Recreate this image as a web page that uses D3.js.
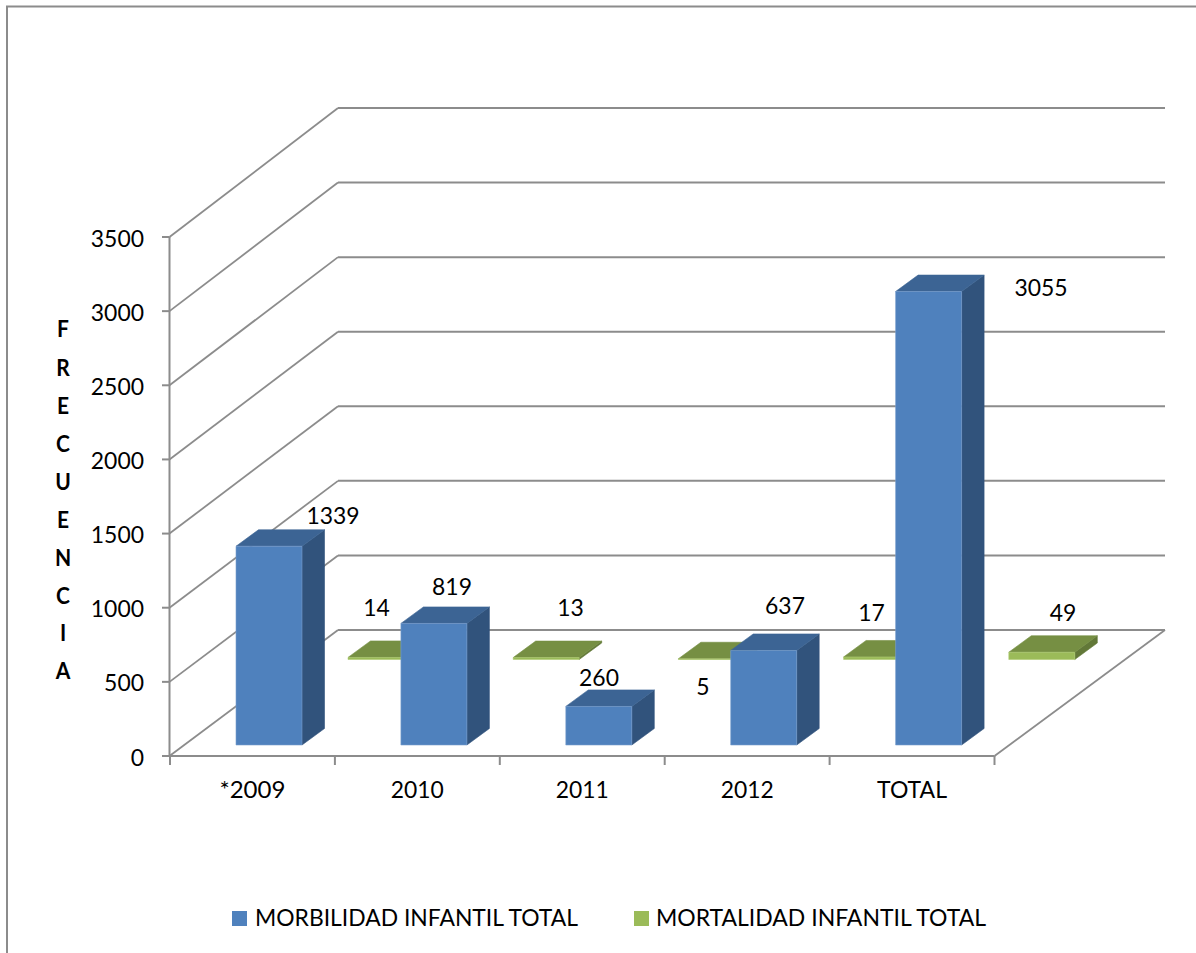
<!DOCTYPE html>
<html><head><meta charset="utf-8">
<script src="https://cdn.jsdelivr.net/npm/d3@7"></script>
<style>html,body{margin:0;padding:0;background:#fff}svg{display:block}text{font-family:Lato,"Open Sans",sans-serif;fill:#000}</style>
</head><body><svg id="c" width="1196" height="953"></svg>
<script>
const categories=["*2009","2010","2011","2012","TOTAL"];
const morbilidad=[1339,819,260,637,3055];
const mortalidad=[14,13,5,17,49];
const seriesNames=["MORBILIDAD INFANTIL TOTAL","MORTALIDAD INFANTIL TOTAL"];
const yTicks=[0,500,1000,1500,2000,2500,3000,3500];
const axisLetters=["F","R","E","C","U","E","N","C","I","A"];

const svg=d3.select("#c");
const xFront=d3.scaleBand().domain(categories).range([170,994.5]);
const xBack=d3.scaleBand().domain(categories).range([170,996]);
const y=d3.scaleLinear().domain([0,3500]).range([756,237]);
const yBack=d3.scaleLinear().domain([0,3500]).range([630,108]);
const barH=d3.scaleLinear().domain([0,3500]).range([0,519.5]);
const axisX=169.5,backX=338,rightX=1165,floorRight=994.5;
const barW=66,barDX=22.5,barDY=16.5,barInset=50;
const grid="#8c8c8c";
const line=(a,b,c,d,w=2)=>svg.append("line").attr("x1",a).attr("y1",b).attr("x2",c).attr("y2",d).attr("stroke",grid).attr("stroke-width",w);

// frame
svg.append("path").attr("d","M7,953V6.5H1196").attr("fill","none").attr("stroke","#8c8c8c").attr("stroke-width",2);

// walls
yTicks.forEach(t=>{
  if(t>0) line(axisX,y(t),backX,yBack(t),1.8);
  line(backX,yBack(t),rightX,yBack(t));
  line(162,y(t),axisX,y(t));
});
line(axisX,237,axisX,756);
line(axisX,756,backX,630,1.8);
line(axisX,756,floorRight,756);
line(floorRight,756,rightX,630,1.8);
[...categories.keys(),5].forEach(i=>{const px=170+i*xFront.bandwidth();line(px,756,px,765);});

function bar(g,L,val,dy,c){
  const R=L+barW,B=y(0)-dy,T=B-barH(val);
  const poly=(pts,f,s)=>g.append("polygon").attr("points",pts.map(p=>p.join(",")).join(" ")).attr("fill",f).attr("stroke",s||f).attr("stroke-width",0.6).attr("stroke-linejoin","round");
  poly([[R,B],[R+barDX,B-barDY],[R+barDX,T-barDY],[R,T]],c.side);
  poly([[L,T],[R,T],[R+barDX,T-barDY],[L+barDX,T-barDY]],c.top);
  poly([[L,B],[R,B],[R,T],[L,T]],c.front,c.edge);
}
const gGreen=svg.append("g"),gBlue=svg.append("g");
const blue={front:"#4f81bd",top:"#3c6494",side:"#31537c",edge:"#7ba0cf"};
const green={front:"#9bbb59",top:"#768f43",side:"#627838",edge:"#aecb72"};
categories.forEach((c,i)=>bar(gGreen,xBack(c)+barInset+128,mortalidad[i],96.5,green));
categories.forEach((c,i)=>bar(gBlue,xFront(c)+barInset+16,morbilidad[i],11,blue));

// text: Lato sized to the reference height, then narrowed to the reference width
const fs=24,narrow=0.955;
const label=(t,a,b,anchor="middle",extra={},width=null)=>{
  const e=svg.append("text").attr("x",a).attr("y",b).attr("text-anchor",anchor).attr("font-size",fs).text(t);
  for(const k in extra)e.attr(k,extra[k]);
  const w=width||e.node().getComputedTextLength()*narrow;
  e.attr("textLength",w).attr("lengthAdjust","spacingAndGlyphs");
  return e;
};
const blueLabelPos=[[333,524],[452,595],[599,686],[785,614],[1041,296]];
const greenLabelPos=[[376.5,616],[570.5,616],[703,695],[871.5,621],[1063,621]];
morbilidad.forEach((v,i)=>label(v,...blueLabelPos[i]));
mortalidad.forEach((v,i)=>label(v,...greenLabelPos[i]));

// axis labels
yTicks.forEach(t=>label(t,144,y(t)+9.5,"end"));
const catWidths=[66,53,53,53,70];
categories.forEach((c,i)=>label(c,xFront(c)+xFront.bandwidth()/2,798,"middle",{},catWidths[i]));
const letterY=[337,376,414,452,490,528,566,604,641,679];
axisLetters.forEach((l,i)=>label(l,63,letterY[i],"middle",{"font-weight":"700","font-size":22}));

// legend
svg.append("rect").attr("x",232).attr("y",911).attr("width",15).attr("height",15).attr("fill","#4f81bd");
svg.append("rect").attr("x",634).attr("y",911).attr("width",15).attr("height",15).attr("fill","#9bbb59");
label(seriesNames[0],255,926,"start",{},323);
label(seriesNames[1],656,926,"start",{},330);
</script></body></html>
